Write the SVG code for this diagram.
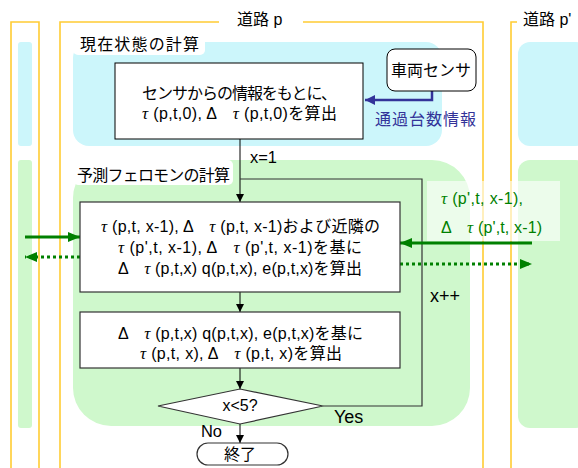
<svg xmlns="http://www.w3.org/2000/svg" width="578" height="468" viewBox="0 0 578 468">
<style>
text{font-family:"Liberation Sans","Noto Sans CJK JP",sans-serif;fill:#000}
.t{font-size:16px}
.j{font-size:16px}
.l{font-size:18px}
.c{text-anchor:middle}
.tau{font-family:"Liberation Serif","Noto Sans CJK JP",serif;font-style:italic;font-size:17px}
.box{fill:#fff;stroke:#000;stroke-width:1}
.box2{fill:#fff;stroke:#333;stroke-width:1.2}
.road{fill:none;stroke:#ffcc33;stroke-width:1.6}
.cyan{fill:#ccf6fb}
.green{fill:#cff8cc}
.lbl{fill:#fff}
.con{fill:none;stroke:#000;stroke-width:1}
.gt{fill:#008000}
</style>
<defs>
<marker id="ab" markerUnits="userSpaceOnUse" markerWidth="8" markerHeight="8" refX="8" refY="4" orient="auto"><path d="M0,0 L8,4 L0,8 z" fill="#000"/></marker>
<marker id="abl" markerUnits="userSpaceOnUse" markerWidth="10" markerHeight="10" refX="10" refY="5" orient="auto"><path d="M0,0 L10,5 L0,10 z" fill="#333399"/></marker>
<marker id="ag" markerUnits="userSpaceOnUse" markerWidth="12" markerHeight="10" refX="12" refY="5" orient="auto"><path d="M0,0 L12,5 L0,10 z" fill="#008000"/></marker>
</defs>

<g id="background">
<rect class="cyan" x="18" y="42" width="14" height="104" rx="3"/>
<rect class="cyan" x="73" y="42" width="369" height="104" rx="16"/>
<rect class="cyan" x="518" y="42" width="70" height="104" rx="12"/>
<rect class="green" x="18" y="160" width="14" height="268" rx="3"/>
<rect class="green" x="73" y="160" width="397" height="266" rx="38"/>
<rect class="green" x="518" y="160" width="70" height="268" rx="12"/>
</g>

<g id="roads">
<path class="road" d="M11,468 V22 H39 V468"/>
<path class="road" d="M60,468 V22 H219"/>
<path class="road" d="M303,22 H483 V468"/>
<path class="road" d="M511,468 V22 H517"/>
<text class="j" x="237" y="25">道路 p</text>
<text class="j" x="523" y="25">道路 p'</text>
</g>

<g id="section-current">
<rect class="lbl" x="73" y="32" width="132" height="23" rx="5"/>
<text class="j" x="80" y="50" textLength="119" lengthAdjust="spacing">現在状態の計算</text>
</g>
<g id="section-predict">
<rect class="lbl" x="73" y="160" width="160" height="25" rx="5"/>
<text class="j" x="77" y="181" textLength="153" lengthAdjust="spacing">予測フェロモンの計算</text>
</g>

<rect x="427" y="181" width="133" height="60" fill="#fff" fill-opacity="0.6"/>

<g id="connectors">
<path d="M432,91 V100 H365" fill="none" stroke="#333399" stroke-width="2.5" marker-end="url(#abl)"/>
<line class="con" x1="240" y1="139" x2="240" y2="202" marker-end="url(#ab)"/>
<path d="M323,406 H422 V179 H240" fill="none" stroke="#333" stroke-width="1.2"/>
<line class="con" x1="240" y1="292" x2="240" y2="312" marker-end="url(#ab)"/>
<line class="con" x1="240" y1="368" x2="240" y2="389" marker-end="url(#ab)"/>
<line class="con" x1="240" y1="424" x2="240" y2="443" marker-end="url(#ab)"/>
<line x1="25" y1="237" x2="80" y2="237" stroke="#008000" stroke-width="3" marker-end="url(#ag)"/>
<line x1="80" y1="257" x2="25" y2="257" stroke="#008000" stroke-width="3" stroke-dasharray="3,3" marker-end="url(#ag)"/>
<line x1="532" y1="243" x2="400" y2="243" stroke="#008000" stroke-width="3" marker-end="url(#ag)"/>
<line x1="400" y1="264" x2="532" y2="264" stroke="#008000" stroke-width="3" stroke-dasharray="3,3" marker-end="url(#ag)"/>
<text class="t" x="250" y="163" textLength="27" lengthAdjust="spacingAndGlyphs">x=1</text>
<text class="l" x="430" y="302">x++</text>
<text class="l" x="334" y="423">Yes</text>
<text class="t" x="201" y="437" textLength="21" lengthAdjust="spacingAndGlyphs">No</text>
<text class="j" x="375" y="125" style="fill:#333399" textLength="101" lengthAdjust="spacing">通過台数情報</text>
<text class="t gt" x="441" y="204" textLength="82" lengthAdjust="spacing"><tspan class="tau gt">τ</tspan> (p',t, x-1),</text>
<text class="t gt" x="441" y="233" textLength="101" lengthAdjust="spacing">Δ　<tspan class="tau gt">τ</tspan> (p',t, x-1)</text>
</g>

<g id="sensor">
<rect class="box" x="387" y="49" width="89" height="42" rx="8"/>
<text class="j c" x="431" y="76">車両センサ</text>
</g>

<g id="box-current">
<rect class="box" x="115" y="63" width="248" height="76"/>
<text class="t" x="142" y="99" textLength="195" lengthAdjust="spacing">センサからの情報をもとに、</text>
<text class="t" x="142" y="119" textLength="195" lengthAdjust="spacing"><tspan class="tau">τ</tspan> (p,t,0), Δ　<tspan class="tau">τ</tspan> (p,t,0)を算出</text>
</g>

<g id="box-predict">
<rect class="box2" x="80" y="202" width="320" height="90"/>
<text class="t" x="101" y="232" textLength="279" lengthAdjust="spacing"><tspan class="tau">τ</tspan> (p,t, x-1), Δ　<tspan class="tau">τ</tspan> (p,t, x-1)および近隣の</text>
<text class="t" x="118" y="253" textLength="244" lengthAdjust="spacing"><tspan class="tau">τ</tspan> (p',t, x-1), Δ　<tspan class="tau">τ</tspan> (p',t, x-1)を基に</text>
<text class="t" x="118" y="274" textLength="244" lengthAdjust="spacing">Δ　<tspan class="tau">τ</tspan> (p,t,x) q(p,t,x), e(p,t,x)を算出</text>
</g>

<g id="box-update">
<rect class="box2" x="80" y="312" width="320" height="56"/>
<text class="t" x="118" y="339" textLength="245" lengthAdjust="spacing">Δ　<tspan class="tau">τ</tspan> (p,t,x) q(p,t,x), e(p,t,x)を基に</text>
<text class="t" x="140" y="359" textLength="202" lengthAdjust="spacing"><tspan class="tau">τ</tspan> (p,t, x), Δ　<tspan class="tau">τ</tspan> (p,t, x)を算出</text>
</g>

<g id="decision">
<polygon class="box2" points="158,406 240,389 323,406 240,424"/>
<text class="t c" x="240" y="411">x&lt;5?</text>
</g>

<g id="end">
<rect class="box2" x="197" y="443" width="91" height="22" rx="11"/>
<text class="j c" x="240" y="460">終了</text>
</g>
</svg>
